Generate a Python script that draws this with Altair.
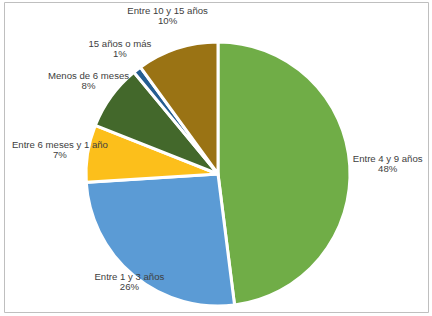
import altair as alt
import pandas as pd
import math

categories = ["Entre 4 y 9 años", "Entre 1 y 3 años", "Entre 6 meses y 1 año",
              "Menos de 6 meses", "15 años o más", "Entre 10 y 15 años"]
percents = [48, 26, 7, 8, 1, 10]
colors = ["#70AD47", "#5B9BD5", "#FCBF1B", "#43682B", "#255E91", "#9A7314"]

df = pd.DataFrame({"cat": categories, "pct": percents, "idx": list(range(len(categories)))})

CX, CY = 214, 172
theta_scale = alt.Scale(domain=[0, 100], range=[0, 2 * math.pi])

pie = alt.Chart(df).mark_arc(outerRadius=132, stroke="white", strokeWidth=3).encode(
    theta=alt.Theta("pct:Q", stack=True, scale=theta_scale),
    order=alt.Order("idx:O"),
    color=alt.Color("cat:N", scale=alt.Scale(domain=categories, range=colors), legend=None),
    x=alt.value(CX),
    y=alt.value(CY),
)

lbase = alt.Chart(df).transform_window(
    cum="sum(pct)", sort=[alt.SortField("idx")]
).transform_calculate(
    mid="datum.cum - datum.pct / 2",
    label="datum.cat + '\\n' + datum.pct + '%'",
).encode(
    theta=alt.Theta("mid:Q", stack=False, scale=theta_scale),
    text="label:N",
    x=alt.value(CX),
    y=alt.value(CY - 4),
)

txt_style = dict(font="Liberation Sans", fontSize=9.6, color="#404040",
                 lineBreak="\n", lineHeight=10, align="center", baseline="middle")

labels_main = lbase.transform_filter(
    "datum.cat != 'Entre 1 y 3 años' && datum.cat != 'Entre 10 y 15 años' && datum.cat != 'Entre 4 y 9 años'"
).mark_text(radius=160, **txt_style)
labels_r = lbase.transform_filter("datum.cat == 'Entre 4 y 9 años'").mark_text(radius=170, **txt_style)
labels_in = lbase.transform_filter("datum.cat == 'Entre 1 y 3 años'").mark_text(radius=139, **txt_style)
labels_top = lbase.transform_filter("datum.cat == 'Entre 10 y 15 años'").mark_text(
    radius=163, dx=0, dy=-4, **txt_style)

chart = alt.layer(pie, labels_main, labels_r, labels_in, labels_top).properties(
    width=424, height=310,
    padding={"left": 4, "top": 2, "right": 4, "bottom": 4},
    autosize=alt.AutoSizeParams(type="none"),
    background="white",
).configure_view(stroke="#BFBFBF", strokeWidth=1)

chart.save("out.html", embed_options={"renderer": "svg", "actions": False})
